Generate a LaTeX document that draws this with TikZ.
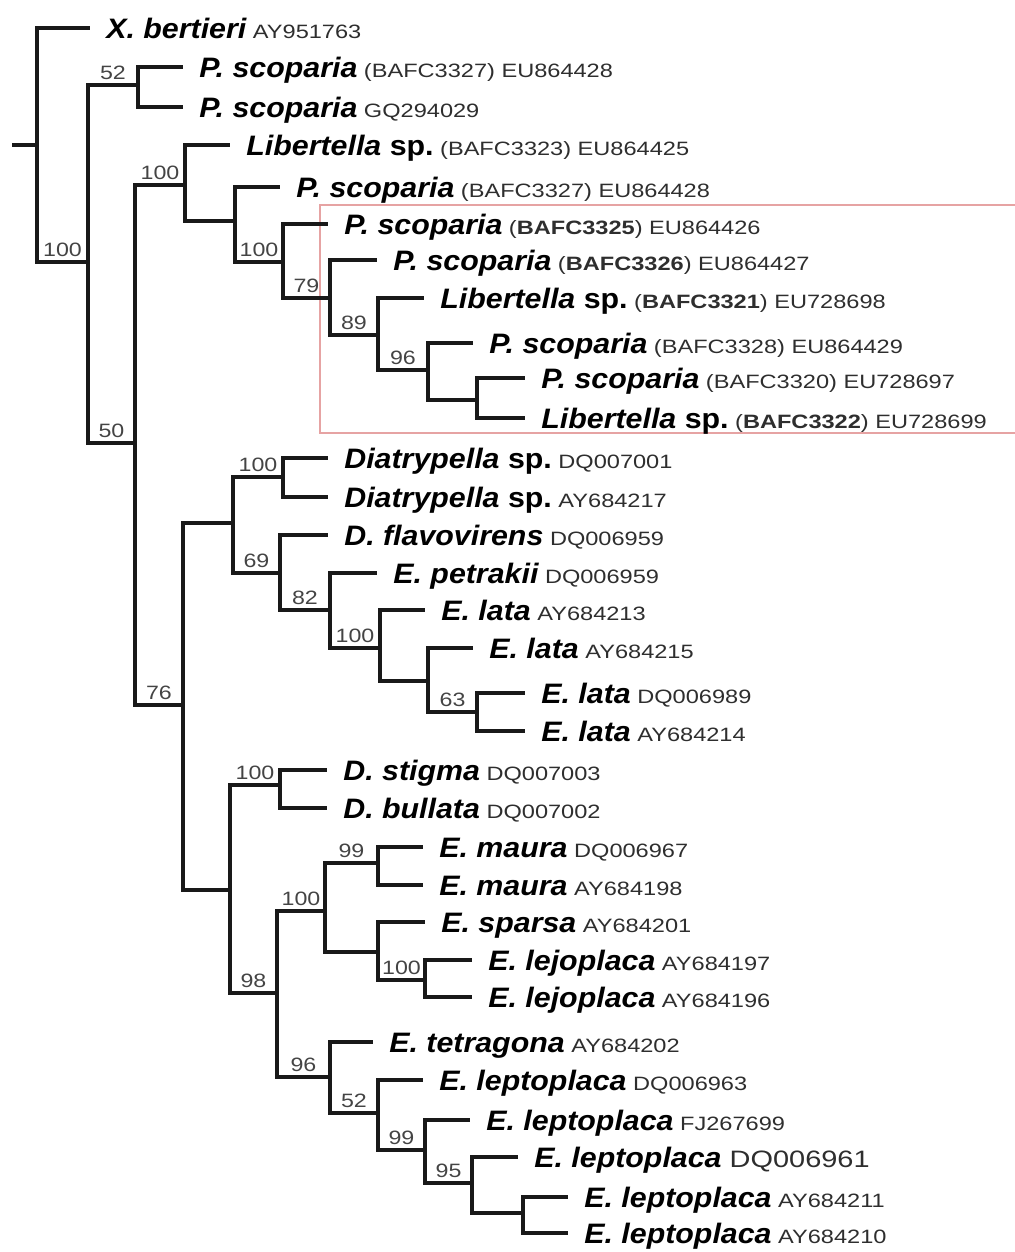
\documentclass[tikz,border=0pt]{standalone}
\usepackage{fontspec}
\usepackage{tikz}

\newfontfamily\taxfont[FakeStretch=1.08]{Liberation Sans}
\newfontfamily\accfont[FakeStretch=1.22]{Liberation Sans}
\newfontfamily\bootfont[FakeStretch=1.2]{Liberation Sans}
\definecolor{accgray}{HTML}{2E2E2E}
\definecolor{bootgray}{HTML}{444444}
\definecolor{boxred}{HTML}{E6A3A3}

\newcommand{\tx}[1]{{\fontsize{16}{18}\taxfont\bfseries\itshape #1}}
\newcommand{\spx}{{\fontsize{16}{18}\taxfont\bfseries\ sp.}}
\newcommand{\acc}[1]{{\fontsize{11}{13}\accfont\color{accgray}\ #1}}
\newcommand{\accbig}[1]{{\fontsize{13.5}{15}\accfont\color{accgray}\ #1}}

\begin{document}
\begin{tikzpicture}[x=0.02cm,y=-0.02cm,
		branch/.style={line width=1.9pt, color=black!90},
		leaf/.style={anchor=base west, inner sep=0pt, xshift=0.32cm, yshift=-0.2cm},
		boot/.style={pos=0.75, anchor=base, inner sep=0pt, yshift=3.2pt,
			font=\fontsize{11}{13}\bootfont, text=bootgray}]
	\useasboundingbox (0,0) rectangle (1015,1252);

	% clade box
	\draw[boxred, line width=0.6pt] (1015,205) -- (320,205) -- (320,433) -- (1015,433);

	% internal nodes
	\coordinate (stub) at (12,145);
	\coordinate (nr) at (37,145);
	\coordinate (na) at (88,262);
	\coordinate (nb) at (138,85);
	\coordinate (nc) at (135,443);
	\coordinate (nd) at (185,185);
	\coordinate (nf) at (235,221);
	\coordinate (ng) at (283,262);
	\coordinate (nh) at (330,298);
	\coordinate (ni) at (378,335);
	\coordinate (nj) at (428,370);
	\coordinate (nk) at (477,400);
	\coordinate (ne) at (183,705);
	\coordinate (nl) at (233,523);
	\coordinate (nn) at (283,477);
	\coordinate (no) at (280,573);
	\coordinate (np) at (330,610);
	\coordinate (nq) at (380,648);
	\coordinate (ns) at (428,681);
	\coordinate (nt) at (477,712);
	\coordinate (nm) at (230,890);
	\coordinate (nu) at (280,785);
	\coordinate (nv) at (277,993);
	\coordinate (nw) at (325,911);
	\coordinate (ny) at (378,863);
	\coordinate (nz) at (378,952);
	\coordinate (nlj) at (425,980);
	\coordinate (nx) at (330,1077);
	\coordinate (naa) at (378,1113);
	\coordinate (nbb) at (425,1150);
	\coordinate (ncc) at (472,1183);
	\coordinate (ndd) at (523,1213);

	% tips
	\coordinate (t1) at (90,28);
	\coordinate (t2) at (183,67);
	\coordinate (t3) at (183,107);
	\coordinate (t4) at (230,145);
	\coordinate (t5) at (280,187);
	\coordinate (t6) at (328,224);
	\coordinate (t7) at (377,260);
	\coordinate (t8) at (424,298);
	\coordinate (t9) at (473,343);
	\coordinate (t10) at (525,378);
	\coordinate (t11) at (525,418);
	\coordinate (t12) at (328,458);
	\coordinate (t13) at (328,497);
	\coordinate (t14) at (328,535);
	\coordinate (t15) at (377,573);
	\coordinate (t16) at (425,610);
	\coordinate (t17) at (473,648);
	\coordinate (t18) at (525,693);
	\coordinate (t19) at (525,731);
	\coordinate (t20) at (327,770);
	\coordinate (t21) at (327,808);
	\coordinate (t22) at (423,847);
	\coordinate (t23) at (423,885);
	\coordinate (t24) at (425,922);
	\coordinate (t25) at (472,960);
	\coordinate (t26) at (472,997);
	\coordinate (t27) at (373,1042);
	\coordinate (t28) at (423,1080);
	\coordinate (t29) at (470,1120);
	\coordinate (t30) at (518,1157);
	\coordinate (t31) at (568,1197);
	\coordinate (t32) at (568,1233);

	% branches
	\draw[branch] (stub) -- (nr);
	\foreach \p/\c in {nr/t1, nb/t2, nb/t3, nd/t4, nd/nf, nf/t5, ng/t6, nh/t7, ni/t8,
			nj/t9, nj/nk, nk/t10, nk/t11, ne/nl, ne/nm, nn/t12, nn/t13, no/t14, np/t15,
			nq/t16, nq/ns, ns/t17, nt/t18, nt/t19, nu/t20, nu/t21, nw/nz, ny/t22, ny/t23,
			nz/t24, nlj/t25, nlj/t26, nx/t27, naa/t28, nbb/t29, ncc/t30, ncc/ndd,
			ndd/t31, ndd/t32}
		\draw[branch] (\p) |- (\c);

	% supported branches
	\foreach \p/\c/\b in {nr/na/100, na/nb/52, na/nc/50, nc/nd/100, nc/ne/76,
			nf/ng/100, ng/nh/79, nh/ni/89, ni/nj/96, nl/nn/100, nl/no/69, no/np/82,
			np/nq/100, ns/nt/63, nm/nu/100, nm/nv/98, nv/nw/100, nw/ny/99, nz/nlj/100,
			nv/nx/96, nx/naa/52, naa/nbb/99, nbb/ncc/95}
		\draw[branch] (\p) |- (\c) node[boot] {\b};

	% taxa
	\node[leaf] (l1) at (t1) {\tx{X. bertieri}\acc{AY951763}};
	\node[leaf] (l2) at (t2) {\tx{P. scoparia}\acc{(BAFC3327) EU864428}};
	\node[leaf] (l3) at (t3) {\tx{P. scoparia}\acc{GQ294029}};
	\node[leaf] (l4) at (t4) {\tx{Libertella}\spx\acc{(BAFC3323) EU864425}};
	\node[leaf] (l5) at (t5) {\tx{P. scoparia}\acc{(BAFC3327) EU864428}};
	\node[leaf] (l6) at (t6) {\tx{P. scoparia}\acc{(\textbf{BAFC3325}) EU864426}};
	\node[leaf] (l7) at (t7) {\tx{P. scoparia}\acc{(\textbf{BAFC3326}) EU864427}};
	\node[leaf] (l8) at (t8) {\tx{Libertella}\spx\acc{(\textbf{BAFC3321}) EU728698}};
	\node[leaf] (l9) at (t9) {\tx{P. scoparia}\acc{(BAFC3328) EU864429}};
	\node[leaf] (l10) at (t10) {\tx{P. scoparia}\acc{(BAFC3320) EU728697}};
	\node[leaf] (l11) at (t11) {\tx{Libertella}\spx\acc{(\textbf{BAFC3322}) EU728699}};
	\node[leaf] (l12) at (t12) {\tx{Diatrypella}\spx\acc{DQ007001}};
	\node[leaf] (l13) at (t13) {\tx{Diatrypella}\spx\acc{AY684217}};
	\node[leaf] (l14) at (t14) {\tx{D. flavovirens}\acc{DQ006959}};
	\node[leaf] (l15) at (t15) {\tx{E. petrakii}\acc{DQ006959}};
	\node[leaf] (l16) at (t16) {\tx{E. lata}\acc{AY684213}};
	\node[leaf] (l17) at (t17) {\tx{E. lata}\acc{AY684215}};
	\node[leaf] (l18) at (t18) {\tx{E. lata}\acc{DQ006989}};
	\node[leaf] (l19) at (t19) {\tx{E. lata}\acc{AY684214}};
	\node[leaf] (l20) at (t20) {\tx{D. stigma}\acc{DQ007003}};
	\node[leaf] (l21) at (t21) {\tx{D. bullata}\acc{DQ007002}};
	\node[leaf] (l22) at (t22) {\tx{E. maura}\acc{DQ006967}};
	\node[leaf] (l23) at (t23) {\tx{E. maura}\acc{AY684198}};
	\node[leaf] (l24) at (t24) {\tx{E. sparsa}\acc{AY684201}};
	\node[leaf] (l25) at (t25) {\tx{E. lejoplaca}\acc{AY684197}};
	\node[leaf] (l26) at (t26) {\tx{E. lejoplaca}\acc{AY684196}};
	\node[leaf] (l27) at (t27) {\tx{E. tetragona}\acc{AY684202}};
	\node[leaf] (l28) at (t28) {\tx{E. leptoplaca}\acc{DQ006963}};
	\node[leaf] (l29) at (t29) {\tx{E. leptoplaca}\acc{FJ267699}};
	\node[leaf] (l30) at (t30) {\tx{E. leptoplaca}\accbig{DQ006961}};
	\node[leaf] (l31) at (t31) {\tx{E. leptoplaca}\acc{AY684211}};
	\node[leaf] (l32) at (t32) {\tx{E. leptoplaca}\acc{AY684210}};
\end{tikzpicture}
\end{document}
